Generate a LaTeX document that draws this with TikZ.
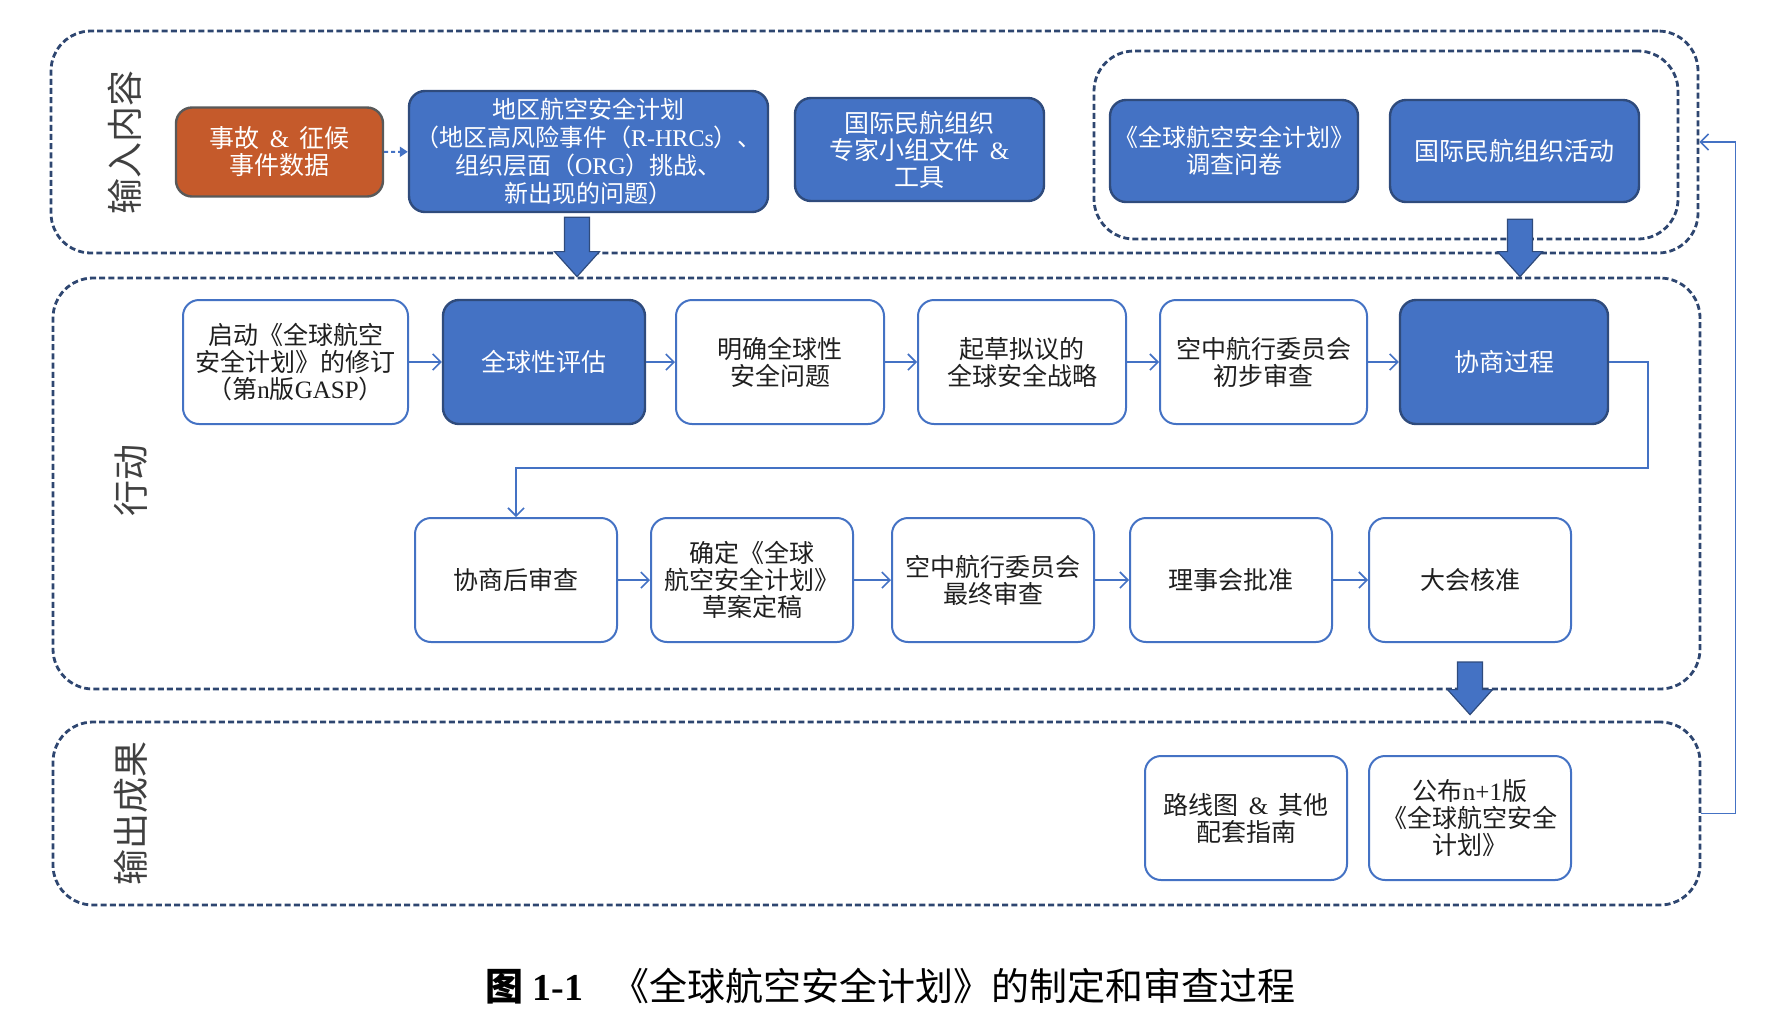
\documentclass[tikz,border=0pt]{standalone}
\usepackage{fontspec}
\setmainfont{Noto Sans CJK SC}
\newfontfamily\lat{Liberation Serif}
\usepackage{tikz}
\usetikzlibrary{arrows.meta,fit,calc}
\definecolor{boxblue}{HTML}{4472C4}
\definecolor{boxedge}{HTML}{2F4B7C}
\definecolor{grpline}{HTML}{2E4670}
\definecolor{accorange}{HTML}{C55A2B}
\newcommand{\lt}[1]{{\lat #1}}
\newcommand{\amp}{\hspace{5pt}{\lat\&}\hspace{5pt}}
% block arrow pointing down: start, end
\newcommand{\bigdown}[2]{%
  \filldraw[bigarr] let \p1=#1, \p2=#2 in
    (\x1-6.25pt,\y1) -- (\x1-6.25pt,\y2+12.5pt) -- (\x1-11.25pt,\y2+12.5pt) -- (\x1,\y2)
    -- (\x1+11.25pt,\y2+12.5pt) -- (\x1+6.25pt,\y2+12.5pt) -- (\x1+6.25pt,\y1) -- cycle;}

\begin{document}
\begin{tikzpicture}[x=0.5pt,y=-0.5pt,
  every node/.style={font=\fontsize{12.5}{13.5}\selectfont},
  grp/.style={draw=grpline,line width=1.4pt,dash pattern=on 3pt off 1.6pt,rounded corners=20pt,inner sep=0pt},
  wbox/.style={draw=boxblue,line width=1pt,fill=white,rounded corners=8pt,align=center,
    minimum width=101pt,minimum height=62pt,text=black!88,inner sep=1pt},
  bbox/.style={wbox,draw=boxedge,line width=1.2pt,fill=boxblue,text=white},
  obox/.style={bbox,fill=accorange,draw=black!65},
  tag/.style={rotate=90,font=\fontsize{18}{18}\selectfont,text=black!75},
  link/.style={draw=boxblue,line width=0.8pt,-{Straight Barb[length=4pt,width=8pt]}},
  dlink/.style={draw=boxblue,line width=1pt,dash pattern=on 2pt off 1.5pt,-{Triangle[length=4pt,width=5pt]}},
  bigarr/.style={draw=boxedge,fill=boxblue,line width=0.6pt}]
\useasboundingbox (0,0) rectangle (1781,1035);

% input
\node[grp,fit={(1094,51) (1678,239)}] (survey) {};
\node[grp,fit={(51,31) (1698,253)}] (inbox) {};
\node[tag] (intag) at (125,142) {输入内容};
\node[obox,minimum width=103.5pt,minimum height=44.5pt] (shigu) at (279.5,152) {事故\amp 征候\\事件数据};
\node[bbox,minimum width=179.5pt,minimum height=60.5pt,font=\fontsize{12}{14}\selectfont] (diqu) at (588.5,151.5)
  {地区航空安全计划\\（地区高风险事件（\lt{R-HRCs}）、\\组织层面（\lt{ORG}）挑战、\\新出现的问题）};
\node[bbox,minimum width=124.5pt,minimum height=51.5pt] (zhuanjia) at (919.5,149.5) {国际民航组织\\专家小组文件\amp\\工具};
\node[bbox,minimum width=124pt,minimum height=51pt,font=\fontsize{12}{13.5}\selectfont] (wenjuan) at (1234,151) {《全球航空安全计划》\\调查问卷};
\node[bbox,minimum width=124.5pt,minimum height=51pt] (huodong) at (1514.5,151) {国际民航组织活动};
\draw[dlink] (shigu) -- (diqu);

% actions
\node[grp,fit={(53,278) (1700,689)}] (actbox) {};
\node[tag] (acttag) at (131,480) {行动};
\node[wbox,minimum width=112.5pt] (qidong) at (295.5,362) {启动《全球航空\\安全计划》的修订\\（第\lt{n}版\lt{GASP}）};
\node[bbox] (pinggu) at (544,362) {全球性评估};
\node[wbox,minimum width=104pt] (mingque) at (780,362) {明确全球性\\安全问题};
\node[wbox,minimum width=104pt] (qicao) at (1022,362) {起草拟议的\\全球安全战略};
\node[wbox,minimum width=103.5pt] (chubu) at (1263.5,362) {空中航行委员会\\初步审查};
\node[bbox,minimum width=104pt] (xieshang) at (1504,362) {协商过程};

\node[wbox] (xshen) at (516,580) {协商后审查};
\node[wbox] (dinggao) at (752,580) {确定《全球\\航空安全计划》\\草案定稿};
\node[wbox] (zuizhong) at (993,580) {空中航行委员会\\最终审查};
\node[wbox] (pizhun) at (1231,580) {理事会批准};
\node[wbox] (hezhun) at (1470,580) {大会核准};

\foreach \a/\b in {qidong/pinggu,pinggu/mingque,mingque/qicao,qicao/chubu,chubu/xieshang,
  xshen/dinggao,dinggao/zuizhong,zuizhong/pizhun,pizhun/hezhun}
  \draw[link] (\a) -- (\b);
\draw[link] (xieshang.east) -- ++(39,0) |- ([yshift=24.5pt]xshen.north) -- (xshen.north);

% outputs
\node[grp,fit={(53,722) (1700,905)}] (outbox) {};
\node[tag] (outtag) at (131,813) {输出成果};
\node[wbox] (luxian) at (1246,818) {路线图\amp 其他\\配套指南};
\node[wbox] (gongbu) at (1470,818) {公布\lt{n+1}版\\《全球航空安全\\计划》};
\draw[link] (outbox.east) -- ++(34,0) |- (inbox.east);

\bigdown{([xshift=-5.75pt,yshift=-2pt]diqu.south)}{(diqu.south |- actbox.north)}
\bigdown{([xshift=2.75pt,yshift=-8pt]huodong.south)}{(huodong.south |- actbox.north)}
\bigdown{([yshift=-9.5pt]hezhun.south)}{([yshift=3pt]hezhun.south |- outbox.north)}

\node[font=\fontsize{19}{20}\selectfont] (caption) at (890.5,986)
  {\textbf{图 \lt{1-1}}\hspace{14pt}《全球航空安全计划》的制定和审查过程};
\end{tikzpicture}
\end{document}
